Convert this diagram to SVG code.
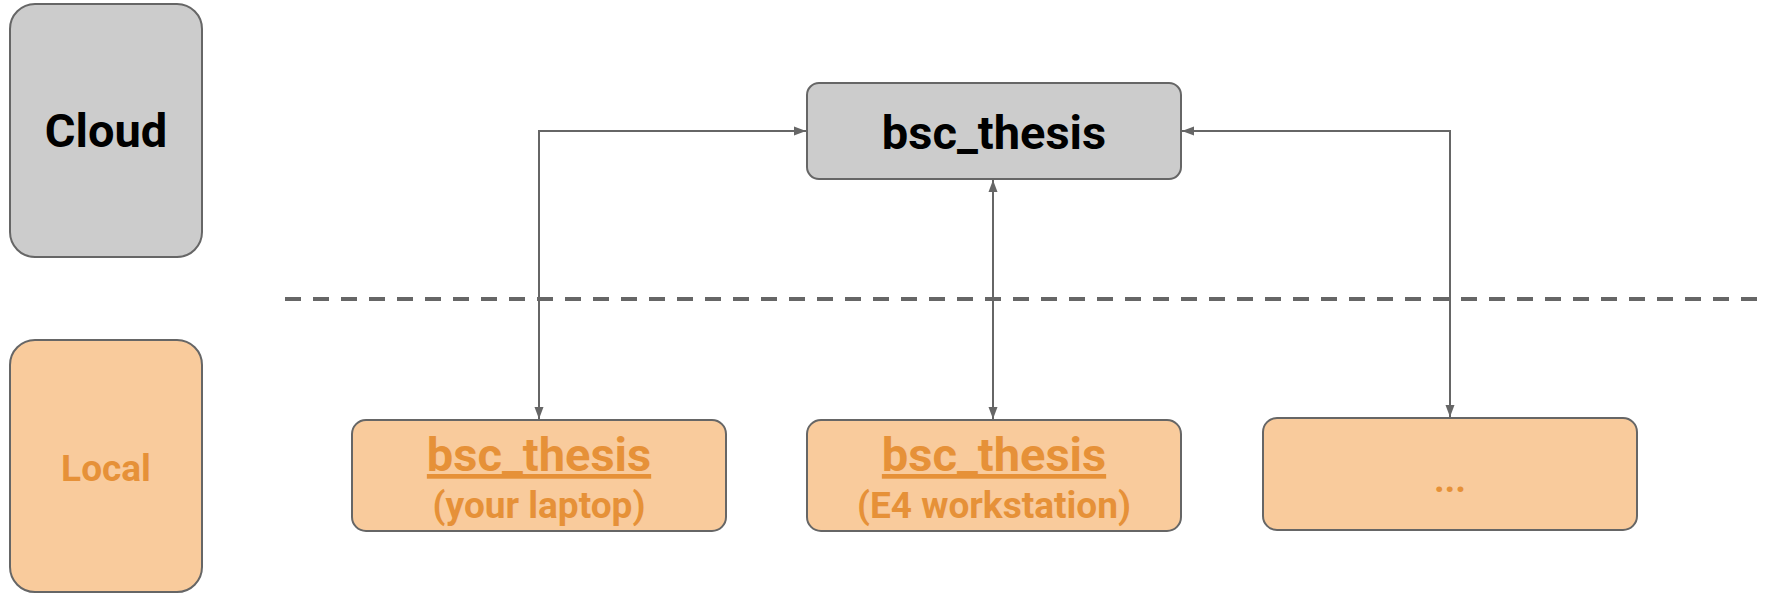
<svg xmlns="http://www.w3.org/2000/svg" width="1767" height="593" viewBox="0 0 1767 593">
<style>
.gray{fill:#cccccc;stroke:#666666;stroke-width:2}
.orange{fill:#f9cb9c;stroke:#666666;stroke-width:2}
.t{font-family:Roboto,"Liberation Sans",sans-serif;font-weight:bold;text-anchor:middle}
.dark{fill:#000000}
.or{fill:#e69138}
.conn{fill:none;stroke:#666666;stroke-width:2}
</style>
<defs>
<marker id="ah" viewBox="0 0 12 10" refX="12" refY="5" markerWidth="12" markerHeight="10" markerUnits="userSpaceOnUse" orient="auto-start-reverse">
<path d="M0,0.5 L12,5 L0,9.5 z" fill="#666666"/>
</marker>
</defs>
<rect width="1767" height="593" fill="#ffffff"/>
<g id="separator">
<line x1="285" y1="299" x2="1767" y2="299" stroke="#666666" stroke-width="4" stroke-dasharray="16 12"/>
</g>
<g id="connectors">
<path class="conn" d="M539,419 L539,131 L806,131" marker-start="url(#ah)" marker-end="url(#ah)"/>
<path class="conn" d="M993,180 L993,419" marker-start="url(#ah)" marker-end="url(#ah)"/>
<path class="conn" d="M1182,131 L1450,131 L1450,417" marker-start="url(#ah)" marker-end="url(#ah)"/>
</g>
<g id="cloud">
<rect class="gray" x="10" y="4" width="192" height="253" rx="25"/>
<text class="t dark" x="106" y="147" font-size="47">Cloud</text>
</g>
<g id="local">
<rect class="orange" x="10" y="340" width="192" height="252" rx="25"/>
<text class="t or" x="106" y="481" font-size="37">Local</text>
</g>
<g id="remote">
<rect class="gray" x="807" y="83" width="374" height="96" rx="12"/>
<text class="t dark" x="994" y="149" font-size="47">bsc_thesis</text>
</g>
<g id="laptop">
<rect class="orange" x="352" y="420" width="374" height="111" rx="14"/>
<text class="t or" x="539" y="471" font-size="47" text-decoration="underline">bsc_thesis</text>
<text class="t or" x="539" y="518" font-size="37">(your laptop)</text>
</g>
<g id="workstation">
<rect class="orange" x="807" y="420" width="374" height="111" rx="14"/>
<text class="t or" x="994" y="471" font-size="47" text-decoration="underline">bsc_thesis</text>
<text class="t or" x="994" y="518" font-size="37">(E4 workstation)</text>
</g>
<g id="more">
<rect class="orange" x="1263" y="418" width="374" height="112" rx="14"/>
<text class="t or" x="1450" y="492" font-size="37">...</text>
</g>
</svg>
